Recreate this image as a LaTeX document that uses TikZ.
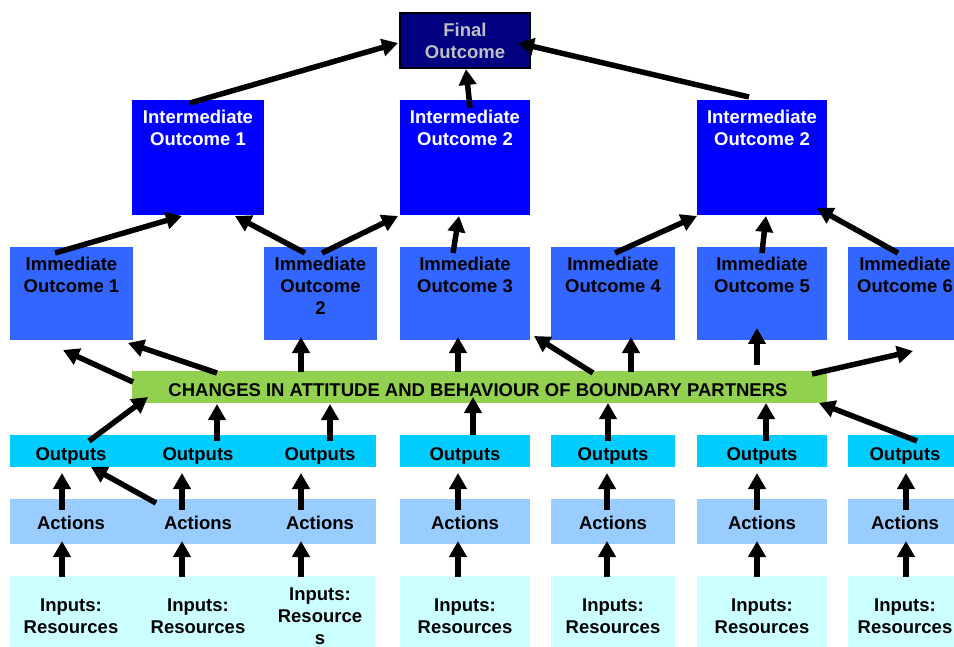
\documentclass[tikz,border=0pt]{standalone}
\usepackage{fontspec}
\setmainfont{Liberation Sans}
\usetikzlibrary{arrows.meta}
\definecolor{navyc}{HTML}{000080}
\definecolor{intc}{HTML}{0000FF}
\definecolor{immc}{HTML}{3366FF}
\definecolor{barc}{HTML}{92D050}
\definecolor{outc}{HTML}{00CCFF}
\definecolor{actc}{HTML}{99CCFF}
\definecolor{inc}{HTML}{CCFFFF}
\definecolor{grayt}{HTML}{C0C0C0}
\newcommand\myarrow[4]{\draw[arr] ([shift={#2}]#1.north west) -- ([shift={#4}]#3.north west);}
\begin{document}
\begin{tikzpicture}[x=1pt,y=-1pt,
  box/.style={anchor=north west,inner sep=0pt,outer sep=0pt,draw=none},
  lbl/.style={font=\bfseries\fontsize{18.5}{22}\selectfont,align=center,inner sep=0pt},
  toplbl/.style={lbl,anchor=north},
  arr/.style={line width=5.5pt,-{Triangle[length=16pt,width=17pt]}},
]
\useasboundingbox (0,0) rectangle (954,647);
\clip (0,0) rectangle (954,647);

% final outcome
\node[box,fill=navyc,draw=black,line width=2pt,minimum width=130pt,minimum height=55pt] (fin) at (400,13) {};
\node[toplbl,text=grayt] (fint) at ([yshift=-10pt]fin.north) {Final\\Outcome};

% intermediate outcomes
\node[box,fill=intc,minimum width=132pt,minimum height=115pt] (int1) at (132,100) {};
\node[box,fill=intc,minimum width=130pt,minimum height=115pt] (int2) at (400,100) {};
\node[box,fill=intc,minimum width=130pt,minimum height=115pt] (int3) at (697,100) {};
\node[toplbl,text=white] (int1t) at ([yshift=-10pt]int1.north) {Intermediate\\Outcome 1};
\node[toplbl,text=white] (int2t) at ([yshift=-10pt]int2.north) {Intermediate\\Outcome 2};
\node[toplbl,text=white] (int3t) at ([yshift=-10pt]int3.north) {Intermediate\\Outcome 2};

% immediate outcomes
\node[box,fill=immc,minimum width=123pt,minimum height=93pt] (io1) at (10,247) {};
\node[box,fill=immc,minimum width=113pt,minimum height=93pt] (io2) at (264,247) {};
\node[box,fill=immc,minimum width=130pt,minimum height=93pt] (io3) at (400,247) {};
\node[box,fill=immc,minimum width=124pt,minimum height=93pt] (io4) at (551,247) {};
\node[box,fill=immc,minimum width=130pt,minimum height=93pt] (io5) at (697,247) {};
\node[box,fill=immc,minimum width=114pt,minimum height=93pt] (io6) at (848,247) {};
\node[toplbl] (io1t) at ([yshift=-10pt]io1.north) {Immediate\\Outcome 1};
\node[toplbl] (io2t) at ([yshift=-10pt]io2.north) {Immediate\\Outcome\\2};
\node[toplbl] (io3t) at ([yshift=-10pt]io3.north) {Immediate\\Outcome 3};
\node[toplbl] (io4t) at ([yshift=-10pt]io4.north) {Immediate\\Outcome 4};
\node[toplbl] (io5t) at ([yshift=-10pt]io5.north) {Immediate\\Outcome 5};
\node[toplbl] (io6t) at ([yshift=-10pt]io6.north) {Immediate\\Outcome 6};

% green bar
\node[box,fill=barc,minimum width=695pt,minimum height=32pt] (bar) at (132,371) {};
\node[lbl,anchor=base] (bart) at (478,396) {CHANGES IN ATTITUDE AND BEHAVIOUR OF BOUNDARY PARTNERS};

% outputs
\node[box,fill=outc,minimum width=366pt,minimum height=32pt] (outA) at (10,435) {};
\node[box,fill=outc,minimum width=130pt,minimum height=32pt] (outB) at (400,435) {};
\node[box,fill=outc,minimum width=124pt,minimum height=32pt] (outC) at (551,435) {};
\node[box,fill=outc,minimum width=130pt,minimum height=32pt] (outD) at (697,435) {};
\node[box,fill=outc,minimum width=114pt,minimum height=32pt] (outE) at (848,435) {};
\foreach \n/\x in {oA1/71,oA2/198,oA3/320,oB/465,oC/613,oD/762,oE/905}
  \node[lbl,anchor=base] (\n) at (\x,460) {Outputs};

% actions
\node[box,fill=actc,minimum width=366pt,minimum height=45pt] (actA) at (10,499) {};
\node[box,fill=actc,minimum width=130pt,minimum height=45pt] (actB) at (400,499) {};
\node[box,fill=actc,minimum width=124pt,minimum height=45pt] (actC) at (551,499) {};
\node[box,fill=actc,minimum width=130pt,minimum height=45pt] (actD) at (697,499) {};
\node[box,fill=actc,minimum width=114pt,minimum height=45pt] (actE) at (848,499) {};
\foreach \n/\x in {aA1/71,aA2/198,aA3/320,aB/465,aC/613,aD/762,aE/905}
  \node[lbl,anchor=base] (\n) at (\x,529) {Actions};

% inputs
\node[box,fill=inc,minimum width=366pt,minimum height=76pt] (inA) at (10,576) {};
\node[box,fill=inc,minimum width=130pt,minimum height=76pt] (inB) at (400,576) {};
\node[box,fill=inc,minimum width=124pt,minimum height=76pt] (inC) at (551,576) {};
\node[box,fill=inc,minimum width=130pt,minimum height=76pt] (inD) at (697,576) {};
\node[box,fill=inc,minimum width=114pt,minimum height=76pt] (inE) at (848,576) {};
\foreach \n/\x in {iA1/71,iA2/198,iB/465,iC/613,iD/762,iE/905}
  \node[lbl] (\n) at (\x,616) {Inputs:\\Resources};
\node[lbl] (iA3) at (320,616) {Inputs:\\Resource\\s};

% arrows: intermediate -> final
\myarrow{int1}{(58,3)}{fin}{(-2,30)}
\myarrow{int2}{(70,8)}{fin}{(66,56)}
\myarrow{int3}{(52,-3)}{fin}{(118,30)}
% immediate -> intermediate
\myarrow{io1}{(45,6)}{int1}{(50,116)}
\myarrow{io2}{(41,6)}{int1}{(103,116)}
\myarrow{io2}{(58,6)}{int2}{(-2,116)}
\myarrow{io3}{(53,6)}{int2}{(59,116)}
\myarrow{io4}{(64,6)}{int3}{(0,116)}
\myarrow{io5}{(65,6)}{int3}{(69,116)}
\myarrow{io6}{(50,6)}{int3}{(120,108)}
% bar -> immediate
\myarrow{bar}{(1,11)}{io1}{(53,103)}
\myarrow{bar}{(85,2)}{io1}{(118,96)}
\myarrow{bar}{(169,1)}{io2}{(37,90)}
\myarrow{bar}{(326,1)}{io3}{(58,90)}
\myarrow{bar}{(461,2)}{io3}{(134,89)}
\myarrow{bar}{(499,1)}{io4}{(80,90)}
\myarrow{bar}{(625,-6)}{io5}{(60,81)}
\myarrow{bar}{(680,3)}{io6}{(65,104)}
% outputs -> bar
\myarrow{outA}{(79,6)}{bar}{(16,26)}
\myarrow{outA}{(207,6)}{bar}{(85,33)}
\myarrow{outA}{(320,6)}{bar}{(198,33)}
\myarrow{outB}{(73,0)}{bar}{(341,26)}
\myarrow{outC}{(57,6)}{bar}{(476,32)}
\myarrow{outD}{(69,6)}{bar}{(634,32)}
\myarrow{outE}{(69,6)}{bar}{(687,32)}
% actions -> outputs
\myarrow{actA}{(52,11)}{outA}{(52,38)}
\myarrow{actA}{(146,4)}{outA}{(81,32)}
\myarrow{actA}{(172,11)}{outA}{(172,38)}
\myarrow{actA}{(291,11)}{outA}{(291,38)}
\myarrow{actB}{(58,11)}{outB}{(58,38)}
\myarrow{actC}{(56,11)}{outC}{(56,38)}
\myarrow{actD}{(60,11)}{outD}{(60,38)}
\myarrow{actE}{(58,11)}{outE}{(58,38)}
% inputs -> actions
\myarrow{inA}{(52,1)}{actA}{(52,42)}
\myarrow{inA}{(172,1)}{actA}{(172,42)}
\myarrow{inA}{(291,1)}{actA}{(291,42)}
\myarrow{inB}{(58,1)}{actB}{(58,42)}
\myarrow{inC}{(56,1)}{actC}{(56,42)}
\myarrow{inD}{(60,1)}{actD}{(60,42)}
\myarrow{inE}{(58,1)}{actE}{(58,42)}
\end{tikzpicture}
\end{document}
